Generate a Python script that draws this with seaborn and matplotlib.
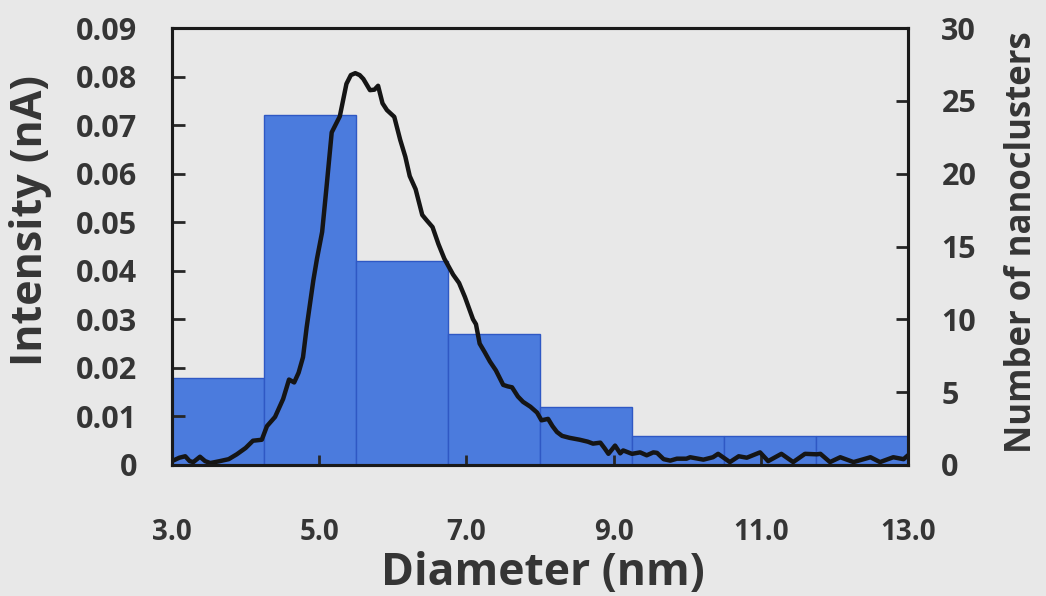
import matplotlib
matplotlib.use("Agg")
import matplotlib.pyplot as plt
import seaborn as sns
import numpy as np

# Histogram of nanocluster sizes (right axis)
bin_edges = [3.0, 4.25, 5.5, 6.75, 8.0, 9.25, 10.5, 11.75, 13.0]
cluster_counts = [6, 24, 14, 9, 4, 2, 2, 2]

# Measured intensity vs. diameter (left axis)
diameter_nm = [
    3.00, 3.10, 3.18, 3.24, 3.29, 3.38, 3.45, 3.52, 3.65, 3.77, 3.88, 4.00,
    4.10, 4.22, 4.29, 4.40, 4.51, 4.59, 4.66, 4.72, 4.78, 4.83, 4.92, 4.97,
    5.04, 5.10, 5.17, 5.28, 5.37, 5.43, 5.49, 5.55, 5.60, 5.69, 5.75, 5.80,
    5.86, 5.92, 6.02, 6.10, 6.17, 6.23, 6.31, 6.40, 6.46, 6.54, 6.62, 6.70,
    6.82, 6.90, 6.98, 7.09, 7.13, 7.18, 7.25, 7.32, 7.40, 7.50, 7.56, 7.62,
    7.70, 7.77, 7.87, 7.96, 8.02, 8.11, 8.17, 8.23, 8.30, 8.40, 8.54, 8.65,
    8.72, 8.82, 8.88, 8.93, 9.02, 9.09, 9.13, 9.25, 9.36, 9.45, 9.54, 9.59,
    9.68, 9.77, 9.86, 9.99, 10.04, 10.22, 10.35, 10.42, 10.58, 10.70, 10.81,
    10.99, 11.10, 11.28, 11.44, 11.60, 11.76, 11.81, 11.94, 12.08, 12.26,
    12.49, 12.62, 12.80, 12.94, 13.00,
]
intensity_nA = [
    0.0008, 0.0015, 0.0018, 0.0008, 0.0006, 0.0017, 0.0008, 0.0004, 0.0008,
    0.0012, 0.0022, 0.0035, 0.0050, 0.0052, 0.0080, 0.0099, 0.0136, 0.0176,
    0.0170, 0.0190, 0.0222, 0.0284, 0.0380, 0.0425, 0.0480, 0.0573, 0.0685,
    0.0718, 0.0785, 0.0803, 0.0807, 0.0803, 0.0795, 0.0772, 0.0773, 0.0781,
    0.0745, 0.0731, 0.0717, 0.0670, 0.0635, 0.0595, 0.0568, 0.0515, 0.0504,
    0.0490, 0.0455, 0.0425, 0.0392, 0.0375, 0.0346, 0.0300, 0.0290, 0.0250,
    0.0232, 0.0213, 0.0195, 0.0165, 0.0162, 0.0160, 0.0141, 0.0130, 0.0120,
    0.0108, 0.0092, 0.0095, 0.0080, 0.0068, 0.0060, 0.0056, 0.0052, 0.0048,
    0.0044, 0.0046, 0.0034, 0.0023, 0.0040, 0.0024, 0.0030, 0.0023, 0.0026,
    0.0020, 0.0026, 0.0025, 0.0012, 0.0009, 0.0013, 0.0013, 0.0016, 0.0011,
    0.0016, 0.0023, 0.0006, 0.0018, 0.0015, 0.0026, 0.0008, 0.0023, 0.0006,
    0.0023, 0.0022, 0.0023, 0.0006, 0.0016, 0.0006, 0.0016, 0.0006, 0.0016,
    0.0012, 0.0020,
]

x_ticks = [3.0, 5.0, 7.0, 9.0, 11.0, 13.0]
x_tick_labels = ["3.0", "5.0", "7.0", "9.0", "11.0", "13.0"]
left_ticks = [0, 0.01, 0.02, 0.03, 0.04, 0.05, 0.06, 0.07, 0.08, 0.09]
left_tick_labels = ["0", "0.01", "0.02", "0.03", "0.04", "0.05", "0.06",
                    "0.07", "0.08", "0.09"]
right_ticks = [0, 5, 10, 15, 20, 25, 30]
right_tick_labels = ["0", "5", "10", "15", "20", "25", "30"]

bg = "#e8e8e8"
text_col = "#353535"
bar_col = "#4b7bdd"
bar_edge = "#2f58c4"

sns.set_style("ticks")
plt.rcParams["font.family"] = ["Open Sans", "DejaVu Sans"]
plt.rcParams["font.weight"] = "bold"

fig = plt.figure(figsize=(10.46, 5.96), dpi=100, facecolor=bg)
W, H = 1046, 596
ax = fig.add_axes([172 / W, 1 - 465 / H, 736 / W, 437 / H])
ax2 = ax.twinx()

# bars on the count axis
centers = [(a + b) / 2 for a, b in zip(bin_edges[:-1], bin_edges[1:])]
sns.histplot(x=centers, weights=cluster_counts, bins=bin_edges, ax=ax2,
             color=bar_col, alpha=1.0, edgecolor=bar_edge, linewidth=1.0)

# intensity curve drawn above the bars
sns.lineplot(x=diameter_nm, y=intensity_nA, ax=ax, color="#151515",
             linewidth=3.2, sort=True)
ax.set_zorder(ax2.get_zorder() + 1)
ax.patch.set_visible(False)
ax2.patch.set_visible(False)

ax.set_xlim(3.0, 13.0)
ax.set_ylim(0, 0.09)
ax2.set_ylim(0, 30)

ax.set_xticks(x_ticks)
ax.set_xticklabels(x_tick_labels)
ax.set_yticks(left_ticks)
ax.set_yticklabels(left_tick_labels)
ax2.set_yticks(right_ticks)
ax2.set_yticklabels(right_tick_labels)

for a in (ax, ax2):
    for s in a.spines.values():
        s.set_linewidth(2.2)
        s.set_color("#1a1a1a")
        s.set_visible(True)

ax.tick_params(axis="x", direction="in", length=7, width=2, pad=38,
               labelsize=20, labelcolor=text_col)
ax.tick_params(axis="y", direction="in", length=9, width=2, pad=25,
               labelsize=22, labelcolor=text_col)
ax2.tick_params(axis="y", direction="in", length=9, width=2, pad=24,
                labelsize=22, labelcolor=text_col)
for lab in ax.get_xticklabels() + ax.get_yticklabels() + ax2.get_yticklabels():
    lab.set_fontweight("bold")

ax.set_xlabel("Diameter (nm)", fontsize=32, fontweight="bold", color=text_col)
ax.set_ylabel("Intensity (nA)", fontsize=31, fontweight="bold", color=text_col)
ax2.set_ylabel("Number of nanoclusters", fontsize=25, fontweight="bold",
               color=text_col)
ax.xaxis.set_label_coords(0.504, -0.196)
ax.yaxis.set_label_coords(-0.163, 0.56)
ax2.yaxis.set_label_coords(1.13, 0.51)

fig.savefig("out.png", dpi=100, facecolor=bg)
